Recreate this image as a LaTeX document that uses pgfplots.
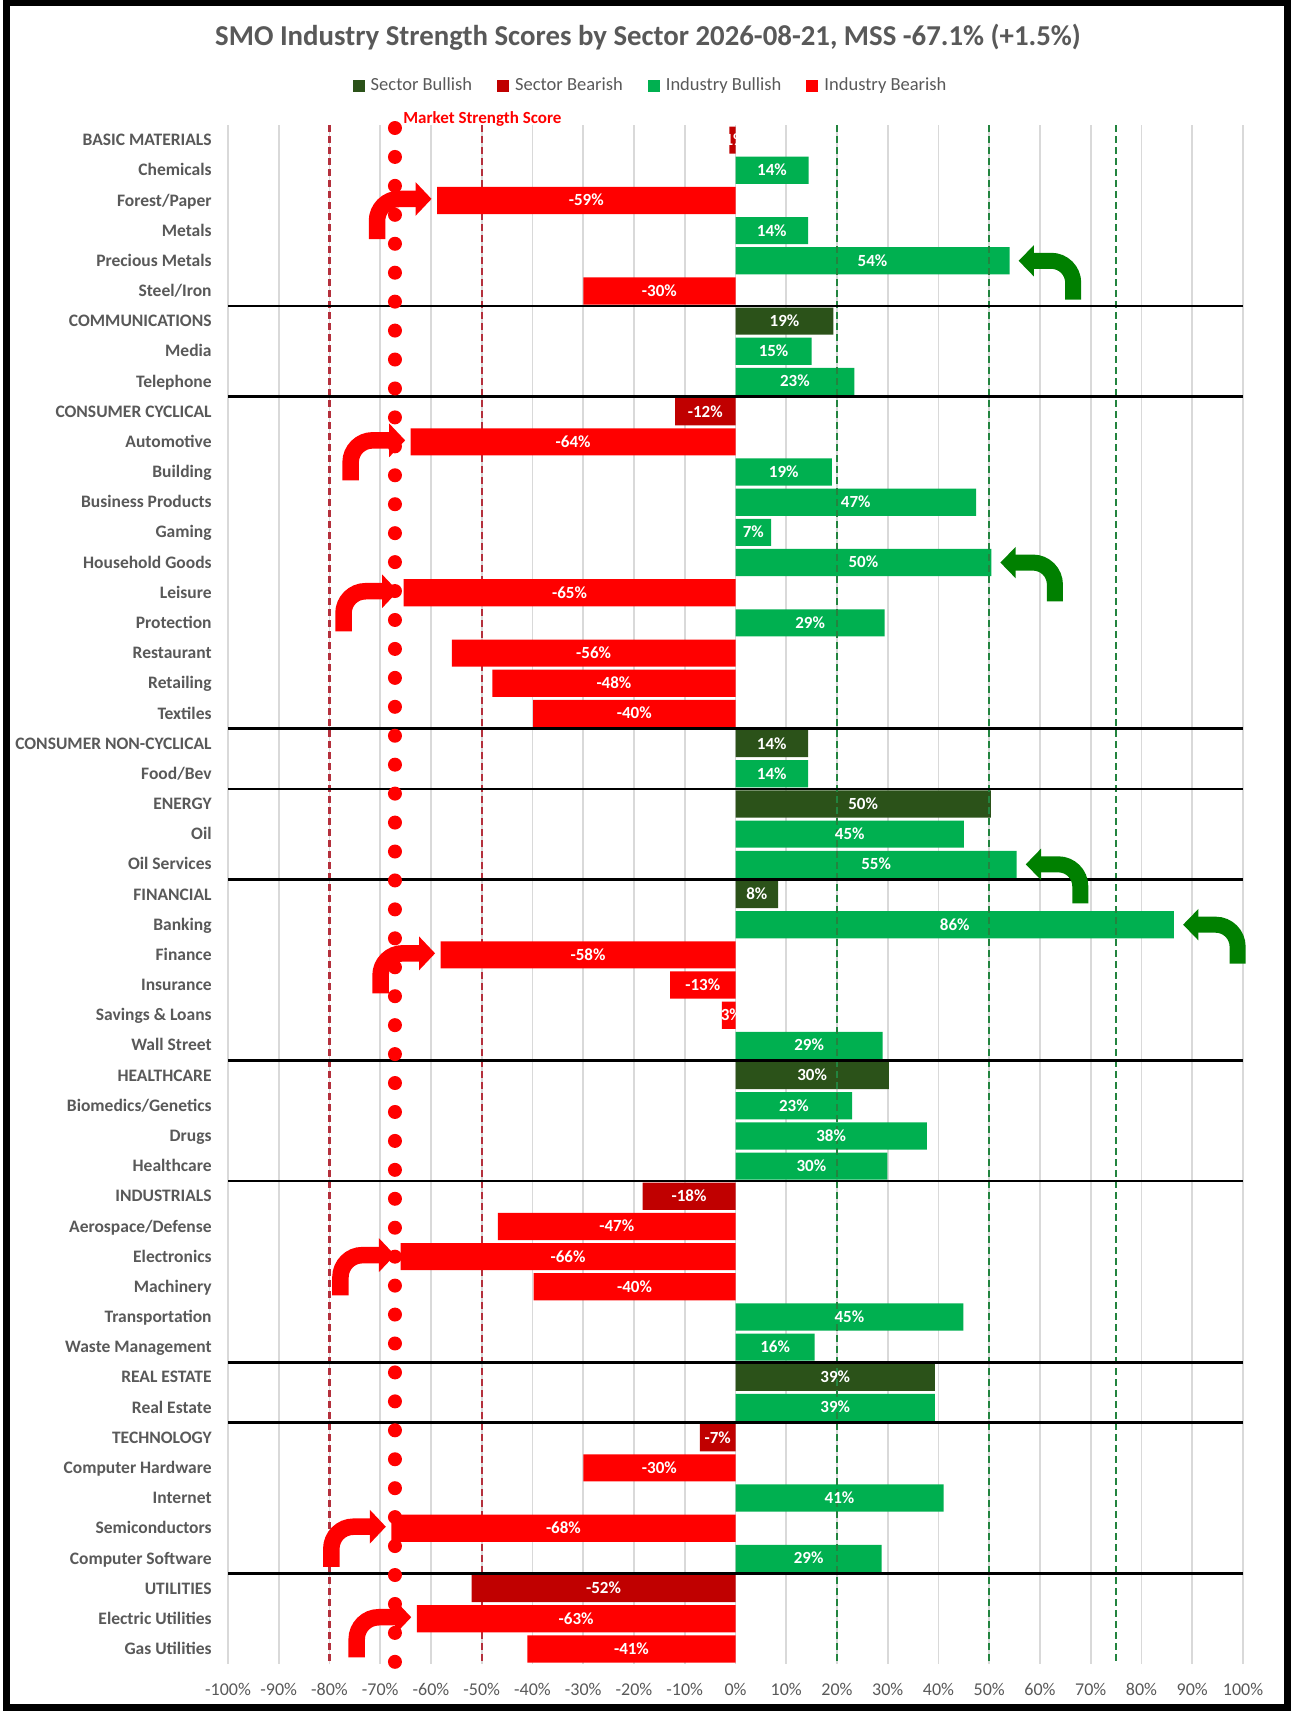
\documentclass[border=0pt]{standalone}
\usepackage{pgfplots}
\pgfplotsset{compat=1.18}
\usepackage{pgfplotstable}
\usepackage{fontspec}
\setmainfont{Carlito}

\definecolor{sbull}{HTML}{2B5219}
\definecolor{sbear}{HTML}{C00000}
\definecolor{ibull}{HTML}{00B050}
\definecolor{ibear}{HTML}{FF0000}
\definecolor{refred}{HTML}{B4303C}
\definecolor{refgreen}{HTML}{23843F}
\definecolor{arrgreen}{HTML}{008000}
\definecolor{txtgray}{HTML}{595959}
\definecolor{gridgray}{HTML}{D9D9D9}

% Sector Bullish
\pgfplotstableread{
y v
7 19.3
21 14.3
23 50.3
26 8.4
32 30.2
42 39.3
}\sbulltab
% Sector Bearish
\pgfplotstableread{
y v
1 -1.2
10 -11.9
36 -18.3
44 -7.0
49 -52.0
}\sbeartab
% Industry Bullish
\pgfplotstableread{
y v
2 14.4
4 14.3
5 54.0
8 15.0
9 23.4
12 19.0
13 47.4
14 7.0
15 50.4
17 29.4
22 14.3
24 45.0
25 55.4
27 86.4
31 29.0
33 23.0
34 37.7
35 29.9
40 44.9
41 15.6
43 39.3
46 41.0
48 28.8
}\ibulltab
% Industry Bearish
\pgfplotstableread{
y v
3 -58.8
6 -30.0
11 -64.0
16 -65.4
18 -55.9
19 -47.9
20 -39.9
28 -58.1
29 -12.9
30 -2.7
37 -46.8
38 -66.0
39 -39.8
45 -30.0
47 -67.8
50 -62.8
51 -41.0
}\ibeartab

\pgfplotsset{
  mybar/.style={xbar, bar width=0.9, bar shift=0pt, draw=none, forget plot=false,
    legend image code/.code={\fill[##1,draw=none] (0bp,-3bp) rectangle (6bp,3bp);}},
  mylabels/.style={forget plot, draw=none, mark=none,
    point meta=explicit,
    nodes near coords={\pgfmathprintnumber[fixed,precision=0,assume math mode=true]{\pgfplotspointmeta}\%},
    every node near coord/.append style={anchor=base, yshift=-2.7bp, inner sep=0pt,
      font=\fontsize{8.5bp}{10bp}\selectfont\bfseries, text=white}},
}

\newcommand\redarrow[2]{%
  \pgfmathsetmacro\tipx{#2-1.1}%
  \pgfmathsetmacro\stemx{\tipx-10.74}%
  \pgfmathsetmacro\basex{\tipx-3.15}%
  \pgfmathsetmacro\shx{\basex+0.4}%
  \pgfmathsetmacro\sy{#1-0.05}%
  \pgfmathsetmacro\by{#1+1.28}%
  \pgfmathsetmacro\hta{\sy-0.56}%
  \pgfmathsetmacro\htb{\sy+0.56}%
  \addplot[forget plot, draw=ibear, line width=8.25bp, rounded corners=11bp] coordinates {(\stemx,\by) (\stemx,\sy) (\shx,\sy)};
  \addplot[forget plot, fill=ibear, draw=none] coordinates {(\basex,\hta) (\tipx,\sy) (\basex,\htb)};
}
\newcommand\greenarrow[2]{%
  \pgfmathsetmacro\tipx{#2+1.8}%
  \pgfmathsetmacro\stemx{\tipx+10.74}%
  \pgfmathsetmacro\basex{\tipx+3.0}%
  \pgfmathsetmacro\shx{\basex-0.4}%
  \pgfmathsetmacro\sy{#1}%
  \pgfmathsetmacro\by{#1+1.29}%
  \pgfmathsetmacro\hta{\sy-0.52}%
  \pgfmathsetmacro\htb{\sy+0.52}%
  \addplot[forget plot, draw=arrgreen, line width=8bp, rounded corners=11bp] coordinates {(\stemx,\by) (\stemx,\sy) (\shx,\sy)};
  \addplot[forget plot, fill=arrgreen, draw=none] coordinates {(\basex,\hta) (\tipx,\sy) (\basex,\htb)};
}

\begin{document}
\begin{tikzpicture}
\path[use as bounding box] (0,0) rectangle (647bp,859bp);
\fill[white] (0,0) rectangle (647bp,859bp);
\draw[line width=3.5bp] (3.25bp,5bp) rectangle (643.75bp,857.5bp);
\node[anchor=base, inner sep=0pt, font=\fontsize{14.4bp}{16bp}\selectfont\bfseries, text=txtgray]
  at (324bp,836bp) {SMO Industry Strength Scores by Sector 2026-08-21, MSS -67.1\% (+1.5\%)};

\begin{axis}[
  at={(114bp,27bp)}, anchor=south west,
  scale only axis, width=507.5bp, height=769.5bp,
  xmin=-100, xmax=100, ymin=0.5, ymax=51.5, y dir=reverse,
  clip=false,
  axis line style={draw=none},
  major tick length=0pt,
  xtick={-100,-90,...,100},
  xticklabel={\pgfmathprintnumber[assume math mode=true]{\tick}\%},
  xticklabel style={font=\fontsize{9bp}{11bp}\selectfont, text=txtgray, anchor=base, inner sep=0pt, yshift=-15.5bp},
  xmajorgrids, major grid style={color=gridgray, line width=0.8bp},
  ytick={1,...,51},
  yticklabels={BASIC MATERIALS,Chemicals,Forest/Paper,Metals,Precious Metals,Steel/Iron,
    COMMUNICATIONS,Media,Telephone,
    CONSUMER CYCLICAL,Automotive,Building,Business Products,Gaming,Household Goods,Leisure,Protection,Restaurant,Retailing,Textiles,
    CONSUMER NON-CYCLICAL,Food/Bev,
    ENERGY,Oil,Oil Services,
    FINANCIAL,Banking,Finance,Insurance,Savings \& Loans,Wall Street,
    HEALTHCARE,Biomedics/Genetics,Drugs,Healthcare,
    INDUSTRIALS,Aerospace/Defense,Electronics,Machinery,Transportation,Waste Management,
    REAL ESTATE,Real Estate,
    TECHNOLOGY,Computer Hardware,Internet,Semiconductors,Computer Software,
    UTILITIES,Electric Utilities,Gas Utilities},
  yticklabel style={font=\fontsize{8.75bp}{10bp}\selectfont\bfseries, text=txtgray, anchor=base east, inner sep=0pt, xshift=-8bp, yshift=-2.8bp},
  legend style={at={(0.4163,1.0253)}, anchor=center, draw=none, fill=none,
    legend columns=4, inner sep=0pt, nodes={inner sep=1bp},
    font=\fontsize{9.25bp}{11bp}\selectfont, text=txtgray,
    /tikz/every odd column/.append style={column sep=2bp},
    /tikz/every even column/.append style={column sep=11.5bp}},
]
% reference lines behind bars
\addplot[forget plot, color=refred, line width=1.2bp, dash pattern=on 3.5bp off 2bp] coordinates {(-80,0.5) (-80,51.5)};
\addplot[forget plot, color=refred, line width=1.2bp, dash pattern=on 3.5bp off 2bp] coordinates {(-50,0.5) (-50,51.5)};

% bars
\addplot[mybar, fill=sbull] table[x=v, y=y] {\sbulltab};
\addlegendentry{Sector Bullish}
\addplot[mybar, fill=sbear] table[x=v, y=y] {\sbeartab};
\addlegendentry{Sector Bearish}
\addplot[mybar, fill=ibull] table[x=v, y=y] {\ibulltab};
\addlegendentry{Industry Bullish}
\addplot[mybar, fill=ibear] table[x=v, y=y] {\ibeartab};
\addlegendentry{Industry Bearish}

% green reference lines over bars
\addplot[forget plot, color=refgreen, line width=1.2bp, dash pattern=on 3.5bp off 2bp] coordinates {(20,0.5) (20,51.5)};
\addplot[forget plot, color=refgreen, line width=1.2bp, dash pattern=on 3.5bp off 2bp] coordinates {(50,0.5) (50,51.5)};
\addplot[forget plot, color=refgreen, line width=1.2bp, dash pattern=on 3.5bp off 2bp] coordinates {(75,0.5) (75,51.5)};

% sector separators
\addplot[forget plot, black, line width=1.3bp] coordinates {(-100,6.5) (100,6.5)};
\addplot[forget plot, black, line width=1.3bp] coordinates {(-100,9.5) (100,9.5)};
\addplot[forget plot, black, line width=1.3bp] coordinates {(-100,20.5) (100,20.5)};
\addplot[forget plot, black, line width=1.3bp] coordinates {(-100,22.5) (100,22.5)};
\addplot[forget plot, black, line width=1.3bp] coordinates {(-100,25.5) (100,25.5)};
\addplot[forget plot, black, line width=1.3bp] coordinates {(-100,31.5) (100,31.5)};
\addplot[forget plot, black, line width=1.3bp] coordinates {(-100,35.5) (100,35.5)};
\addplot[forget plot, black, line width=1.3bp] coordinates {(-100,41.5) (100,41.5)};
\addplot[forget plot, black, line width=1.3bp] coordinates {(-100,43.5) (100,43.5)};
\addplot[forget plot, black, line width=1.3bp] coordinates {(-100,48.5) (100,48.5)};

% market strength score dotted line
\addplot[forget plot, color=ibear, line width=7bp, line cap=round, dash pattern=on 0pt off 14.47bp] coordinates {(-67.1,0.5994) (-67.1,51.5)};

% data labels
\addplot[mylabels] table[x expr=\thisrow{v}/2, y=y, meta=v] {\sbulltab};
\addplot[mylabels] table[x expr=\thisrow{v}/2, y=y, meta=v] {\sbeartab};
\addplot[mylabels] table[x expr=\thisrow{v}/2, y=y, meta=v] {\ibulltab};
\addplot[mylabels] table[x expr=\thisrow{v}/2, y=y, meta=v] {\ibeartab};

% arrows
\redarrow{3}{-58.8}
\redarrow{11}{-64.0}
\redarrow{16}{-65.4}
\redarrow{28}{-58.1}
\redarrow{38}{-66.0}
\redarrow{47}{-67.8}
\redarrow{50}{-62.8}
\greenarrow{5}{54.0}
\greenarrow{15}{50.4}
\greenarrow{25}{55.4}
\greenarrow{27}{86.4}

\node[anchor=base west, inner sep=0pt, xshift=4bp, yshift=0.85bp, font=\fontsize{8.5bp}{10bp}\selectfont\bfseries, text=ibear]
  at (axis cs:-67.1,0.5) {Market Strength Score};
\end{axis}
\end{tikzpicture}
\end{document}
